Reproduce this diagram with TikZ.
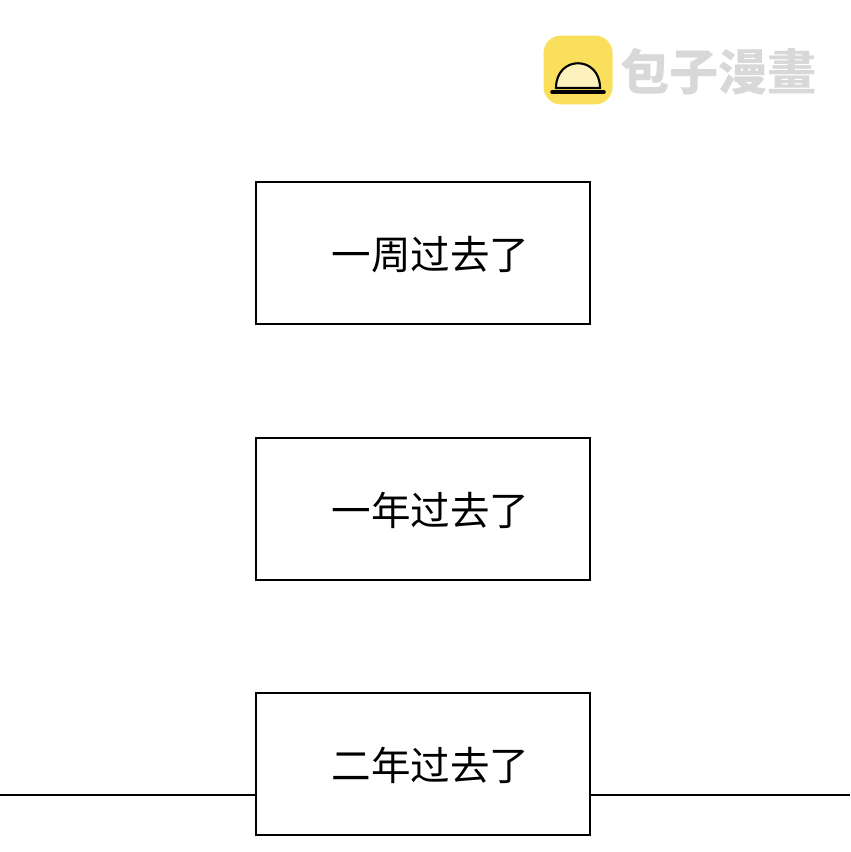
\documentclass[tikz,border=0pt]{standalone}
\usepackage{fontspec}
\newfontfamily\cjk{Noto Sans CJK SC}
\definecolor{bunYellow}{HTML}{F9DF5C}
\definecolor{markGray}{HTML}{D8D8D8}
\begin{document}
\begin{tikzpicture}[x=0.02cm,y=-0.02cm,
  caption/.style={draw,line width=1.3pt,fill=white,minimum width=6.68cm,minimum height=2.84cm,
    font=\cjk\fontsize{22.5}{22.5}\selectfont,text depth=0pt,inner sep=0pt}]
  \useasboundingbox (0,0) rectangle (850,852);
  % bottom panel edge
  \coordinate (EL) at (0,795);
  \coordinate (ER) at (850,795);
  \draw[line width=1.5pt] (EL) -- (ER);
  % captions
  \node[caption] (week) at (423,253) {\hspace*{0.3cm}一周过去了};
  \node[caption] (year) at (423,509) {\hspace*{0.3cm}一年过去了};
  \node[caption] (twoyears) at (423,764) {\hspace*{0.3cm}二年过去了};
  % watermark
  \node[fill=bunYellow,rounded corners=0.35cm,minimum size=1.38cm] (logo) at (578,70) {};
  \draw[line width=1.2pt,fill=white!60!bunYellow] (556,88) .. controls (556,55) and (600,55) .. (600,88) -- cycle;
  \draw[line width=2pt,line cap=round] (552,92) -- (604,92);
  \node[anchor=west,text=markGray,font=\cjk\bfseries\fontsize{28}{28}\selectfont,inner sep=0pt] (brand) at (620,72) {包子漫畫};
\end{tikzpicture}
\end{document}
